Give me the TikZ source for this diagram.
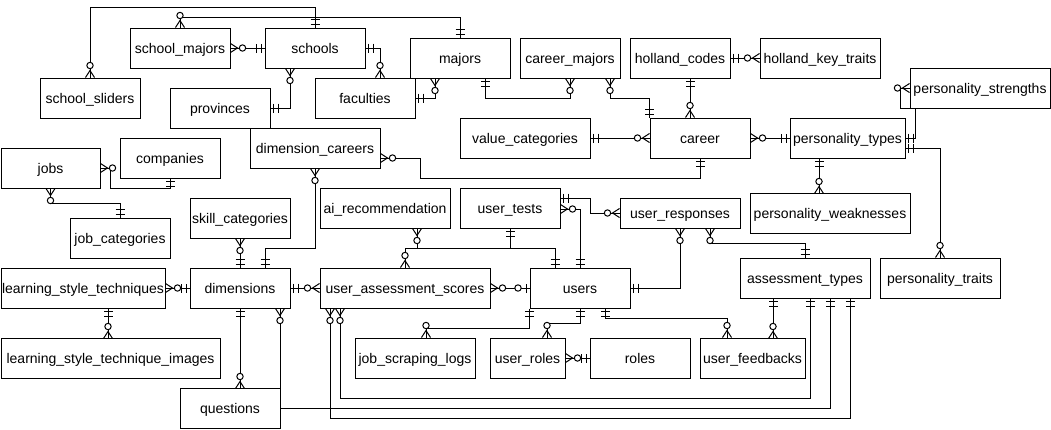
\documentclass[tikz,border=0pt]{standalone}
\usepackage{fontspec}
\setmainfont{Liberation Sans}
\usetikzlibrary{decorations.markings}
\newcommand{\entfont}{\fontsize{14}{16}\selectfont}
\newcommand{\ERone}{\draw[line width=1pt] (3,-4.5)--(3,4.5) (8,-4.5)--(8,4.5);}
\newcommand{\ERmany}{\draw[line width=1pt] (0,-4.5)--(7,0)--(0,4.5); \draw[line width=1pt,fill=white] (12,0) circle (3.2pt);}
\newcommand{\ERzone}{\draw[line width=1pt] (3,-4.5)--(3,4.5); \draw[line width=1pt,fill=white] (11.5,0) circle (3.2pt);}
\begin{document}
\begin{tikzpicture}[x=1pt,y=-1pt,
  ent/.style={draw,fill=white,line width=1pt,inner sep=0pt,minimum height=40pt,text height=12pt,text depth=2pt,font=\entfont},
  er/.style={draw,line width=1pt},
  oneS/.style={postaction={decorate,decoration={markings,mark=at position 0 with {\ERone}}}},
  oneE/.style={postaction={decorate,decoration={markings,mark=at position 1 with {\pgftransformrotate{180}\ERone}}}},
  manyS/.style={postaction={decorate,decoration={markings,mark=at position 0 with {\ERmany}}}},
  manyE/.style={postaction={decorate,decoration={markings,mark=at position 1 with {\pgftransformrotate{180}\ERmany}}}},
  zoneE/.style={postaction={decorate,decoration={markings,mark=at position 1 with {\pgftransformrotate{180}\ERzone}}}}
]
\fill[white] (0,0) rectangle (1051,429);
\useasboundingbox (0,0) rectangle (1051,429);

\node[ent,minimum width=100pt] (school_majors) at (180,48) {school\_majors};
\node[ent,minimum width=100pt] (schools) at (315,48) {schools};
\node[ent,minimum width=100pt] (school_sliders) at (90,98) {school\_sliders};
\node[ent,minimum width=100pt] (provinces) at (220,108) {provinces};
\node[ent,minimum width=100pt] (faculties) at (365,98) {faculties};
\node[ent,minimum width=100pt] (majors) at (460,58) {majors};
\node[ent,minimum width=100pt] (career_majors) at (570,58) {career\_majors};
\node[ent,minimum width=100pt] (holland_codes) at (680,58) {holland\_codes};
\node[ent,minimum width=120pt] (holland_key_traits) at (820,58) {holland\_key\_traits};
\node[ent,minimum width=140pt] (personality_strengths) at (980,88) {personality\_strengths};
\node[ent,minimum width=100pt] (career) at (700,138) {career};
\node[ent,minimum width=115pt] (personality_types) at (847.5,138) {personality\_types};
\node[ent,minimum width=130pt] (value_categories) at (525,138) {value\_categories};
\node[ent,minimum width=130pt] (dimension_careers) at (315,148) {dimension\_careers};
\node[ent,minimum width=99pt] (jobs) at (50.5,168) {jobs};
\node[ent,minimum width=100pt] (companies) at (170,158) {companies};
\node[ent,minimum width=100pt] (job_categories) at (120,238) {job\_categories};
\node[ent,minimum width=100pt] (skill_categories) at (240,218) {skill\_categories};
\node[ent,minimum width=130pt] (ai_recommendation) at (385,208) {ai\_recommendation};
\node[ent,minimum width=100pt] (user_tests) at (510,208) {user\_tests};
\node[ent,minimum width=120pt,minimum height=30pt] (user_responses) at (680,213) {user\_responses};
\node[ent,minimum width=160pt] (personality_weaknesses) at (830,213) {personality\_weaknesses};
\node[ent,minimum width=130pt] (assessment_types) at (805,278) {assessment\_types};
\node[ent,minimum width=120pt] (personality_traits) at (940,278) {personality\_traits};
\node[ent,minimum width=164pt] (learning_style_techniques) at (83,288) {learning\_style\_techniques};
\node[ent,minimum width=100pt] (dimensions) at (240,288) {dimensions};
\node[ent,minimum width=219pt] (learning_style_technique_images) at (110.5,358) {learning\_style\_technique\_images};
\node[ent,minimum width=100pt] (questions) at (230,408) {questions};
\node[ent,minimum width=170pt] (user_assessment_scores) at (405,288) {user\_assessment\_scores};
\node[ent,minimum width=100pt] (users) at (580,288) {users};
\node[ent,minimum width=120pt] (job_scraping_logs) at (415,358) {job\_scraping\_logs};
\node[ent,minimum width=75pt] (user_roles) at (527.5,358) {user\_roles};
\node[ent,minimum width=100pt] (roles) at (640,358) {roles};
\node[ent,minimum width=105pt] (user_feedbacks) at (752.5,358) {user\_feedbacks};

\draw[er,manyS,oneE] (school_sliders.north) -- ++(0,-70) -| (schools.north);
\draw[er,manyS,oneE] (school_majors.north) -- ++(0,-10) -| (majors.north);
\draw[er,manyS,oneE] (school_majors.east) -- (schools.west);
\draw[er,manyS,oneE] ([xshift=-25pt]schools.south) |- (provinces.east);
\draw[er,oneS,manyE] (schools.east) -| ([xshift=15pt]faculties.north);
\draw[er,oneS,manyE] (faculties.east) -| ([xshift=-25pt]majors.south);
\draw[er,oneS,manyE] ([xshift=25pt]majors.south) -- ++(0,20) -| (career_majors.south);
\draw[er,manyS,oneE] ([xshift=40pt]career_majors.south) -- ++(0,20) -| (career.north west);
\draw[er,oneS,manyE] ([xshift=10pt]holland_codes.south) -- ([xshift=-10pt]career.north);
\draw[er,oneS,manyE] (holland_codes.east) -- (holland_key_traits.west);
\draw[er,oneS,manyE] (value_categories.east) -- (career.west);
\draw[er,manyS,oneE] (career.east) -- (personality_types.west);
\draw[er,oneS,manyE] (personality_types.east) -- ++(10,0) -- ++(0,-30) -- ++(-15,0) -- ++(0,-20) -- (personality_strengths.west);
\draw[er,oneS,manyE] ([yshift=-10pt]personality_types.east) -| (personality_traits.north);
\draw[er,oneS,manyE] ([xshift=-28.5pt]personality_types.south) -- ++(0,35);
\draw[er,manyS,oneE] ([yshift=-10pt]dimension_careers.east) -- ++(40,0) -- ++(0,20) -| (career.south);
\draw[er,manyS,oneE] (dimension_careers.south) -- ++(0,80) -| ([xshift=25pt]dimensions.north);
\draw[er,manyS,oneE] (skill_categories.south) -- (dimensions.north);
\draw[er,manyS,oneE] (jobs.east) -- ++(10,0) -- ++(0,20) -| (companies.south);
\draw[er,manyS,oneE] (jobs.south) -- ++(0,15) -| (job_categories.north);
\draw[er,manyS,oneE] (learning_style_techniques.east) -- (dimensions.west);
\draw[er,oneS,manyE] ([xshift=25pt]learning_style_techniques.south) -- ++(0,30);
\draw[er,oneS,manyE] (dimensions.east) -- (user_assessment_scores.west);
\draw[er,oneS,manyE] (dimensions.south) -- ++(0,80);
\draw[er,manyS,oneE] ([xshift=40pt]dimensions.south) -- ++(0,100) -| ([xshift=25pt]assessment_types.south);
\draw[er,manyS,oneE] ([xshift=-65pt]user_assessment_scores.south) -- ++(0,90) -| ([xshift=5pt]assessment_types.south);
\draw[er,manyS,oneE] ([xshift=-75pt]user_assessment_scores.south) -- ++(0,110) -| ([xshift=45pt]assessment_types.south);
\draw[er,manyS,zoneE] (user_assessment_scores.east) -- (users.west);
\draw[er,oneS,manyE] (user_tests.south) -- ++(0,20) -| (user_assessment_scores.north);
\draw[er,manyS,oneE] ([xshift=32pt]ai_recommendation.south) -- ++(0,20) -| ([xshift=-25pt]users.north);
\draw[er,oneS,manyE] ([yshift=10pt]user_tests.east) -- ++(30,0) |- (user_responses.west);
\draw[er,manyS,oneE] ([yshift=-1pt]user_tests.east) -| (users.north);
\draw[er,manyS,oneE] (user_responses.south) |- (users.east);
\draw[er,manyS,oneE] ([xshift=30pt]user_responses.south) -- ++(0,15) -| (assessment_types.north);
\draw[er,oneS,manyE] (users.south west) -- ++(0,20) -| ([xshift=11pt]job_scraping_logs.north);
\draw[er,oneS,manyE] (users.south) -- ++(0,15) -| ([xshift=19.5pt]user_roles.north);
\draw[er,oneS,manyE] ([xshift=25pt]users.south) -- ++(0,10) -| ([xshift=-25.5pt]user_feedbacks.north);
\draw[er,manyS,oneE] (user_roles.east) -- (roles.west);
\draw[er,oneS,manyE] ([xshift=-32pt]assessment_types.south) -- ++(0,40);
\end{tikzpicture}
\end{document}
